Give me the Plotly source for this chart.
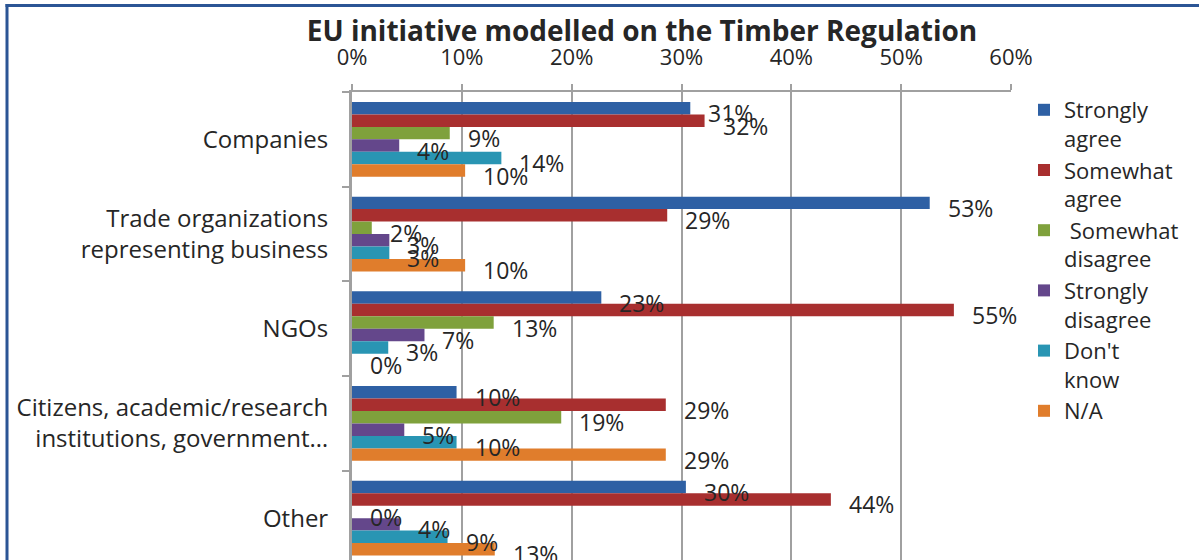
import plotly.graph_objects as go

categories = [
    "Companies",
    "Trade organizations<br>representing business",
    "NGOs",
    "Citizens, academic/research<br>institutions, government…",
    "Other",
]
series_names = [
    "Strongly<br>agree",
    "Somewhat<br>agree",
    " Somewhat<br>disagree",
    "Strongly<br>disagree",
    "Don't<br>know",
    "N/A",
]
strongly_agree = [30.8, 52.6, 22.7, 9.52, 30.4]
somewhat_agree = [32.1, 28.7, 54.8, 28.57, 43.6]
somewhat_disagree = [8.9, 1.8, 12.9, 19.05, 0.0]
strongly_disagree = [4.3, 3.4, 6.6, 4.76, 4.35]
dont_know = [13.6, 3.4, 3.3, 9.52, 8.7]
not_applicable = [10.3, 10.3, 0.0, 28.57, 13.0]
x_ticks = [0, 10, 20, 30, 40, 50, 60]

series_values = [strongly_agree, somewhat_agree, somewhat_disagree,
                 strongly_disagree, dont_know, not_applicable]
colors = ["#2E60A4", "#A82F2F", "#7FA13C", "#64478B", "#2995B3", "#E07D2C"]

FONT = "Open Sans"
TXT = "#262626"
GRID = "#A0A0A0"

W, H = 1199, 560
ML, MR, MT, MB = 352, 188, 92, 0
BARGAP = 0.21

fig = go.Figure()
for name, vals, col in zip(series_names, series_values, colors):
    fig.add_trace(go.Bar(
        y=categories, x=vals, name=name, orientation="h",
        marker=dict(color=col, line=dict(width=0)),
    ))

# data labels (placed at each bar end, Excel-style offset)
n = len(series_values)
bw = (1 - BARGAP) / n
annotations = []
for j, vals in enumerate(series_values):
    off = -(1 - BARGAP) / 2 + bw * (j + 0.5)
    for i, v in enumerate(vals):
        annotations.append(dict(
            x=v, y=i + off, xref="x", yref="y",
            text=f"{int(v + 0.5)}%", showarrow=False,
            xanchor="left", yanchor="middle", xshift=16, yshift=-5,
            font=dict(family=FONT, size=23, color=TXT),
        ))

plot_w = W - ML - MR
plot_h = H - MT - MB
band_px = 94.7
n_units = plot_h / band_px
y_range = [-0.5 + n_units, -0.5]


def px_x(p):
    return (p - ML) / plot_w


def px_y(p):
    return (H - MB - p) / plot_h


# chart frame (top and left border)
frame_col = "#2B5595"
shapes = [
    dict(type="line", xref="paper", yref="paper", x0=px_x(5.5), x1=px_x(1230),
         y0=px_y(5.5), y1=px_y(5.5), line=dict(color=frame_col, width=3)),
    dict(type="line", xref="paper", yref="paper", x0=px_x(7), x1=px_x(7),
         y0=px_y(4), y1=px_y(600), line=dict(color=frame_col, width=3)),
]

fig.update_layout(
    width=W, height=H,
    margin=dict(l=ML, r=MR, t=MT, b=MB, pad=0),
    paper_bgcolor="white", plot_bgcolor="white",
    barmode="group", bargap=BARGAP, bargroupgap=0,
    font=dict(family=FONT, size=21, color=TXT),
    title=dict(text="<b>EU initiative modelled on the Timber Regulation</b>",
               x=px_x(642), xref="paper", xanchor="center",
               y=1 - 31 / H, yref="container", yanchor="middle",
               font=dict(family=FONT, size=28, color=TXT)),
    xaxis=dict(side="top", range=[0, 60], tickvals=x_ticks,
               ticktext=[f"{t}%" for t in x_ticks],
               showgrid=True, gridcolor=GRID, gridwidth=2,
               showline=True, linecolor=GRID, linewidth=2,
               ticks="outside", ticklen=6, tickcolor=GRID, tickwidth=2,
               ticklabelstandoff=10, zeroline=False,
               tickfont=dict(family=FONT, size=22, color=TXT)),
    yaxis=dict(type="category", range=y_range, tickson="boundaries",
               showline=True, linecolor=GRID, linewidth=3,
               ticks="outside", ticklen=7, tickcolor=GRID, tickwidth=2,
               ticklabelstandoff=16, showgrid=False,
               tickfont=dict(family=FONT, size=24, color=TXT)),
    legend=dict(x=px_x(1024), xanchor="left", y=px_y(89), yanchor="top",
                font=dict(family=FONT, size=22, color=TXT),
                itemwidth=30, valign="top", traceorder="normal",
                maxheight=520,
                bgcolor="rgba(0,0,0,0)"),
    annotations=annotations,
    shapes=shapes,
)

fig.write_html("out.html", config={"displayModeBar": False},
               post_script="document.body.style.margin='0';")
